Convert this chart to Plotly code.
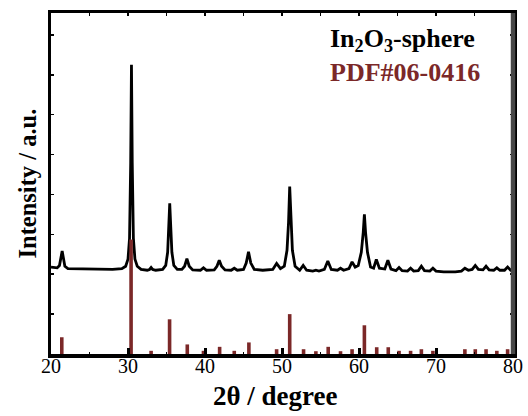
import plotly.graph_objects as go

# ---- measured XRD pattern (In2O3-sphere) ----
two_theta = [20.0, 20.8, 21.1, 21.3, 21.45, 21.6, 21.8, 22.2, 24.0, 26.0,
             28.0, 29.2, 29.7, 30.0, 30.2, 30.35, 30.45, 30.55, 30.7, 30.9,
             31.2, 31.7, 32.5, 32.8, 33.0, 33.2, 33.6, 34.5, 34.9, 35.15,
             35.3, 35.42, 35.55, 35.7, 35.95, 36.4, 37.0, 37.35, 37.65, 37.95,
             38.4, 39.4, 39.8, 40.2, 41.2, 41.55, 41.85, 42.15, 42.6, 43.4,
             43.8, 44.2, 45.0, 45.35, 45.65, 45.95, 46.4, 47.5, 48.8, 49.3,
             49.8, 50.3, 50.65, 50.85, 51.0, 51.15, 51.35, 51.7, 52.3, 52.75,
             53.2, 54.0, 54.4, 54.8, 55.5, 55.95, 56.4, 57.2, 57.6, 58.0,
             58.7, 59.1, 59.5, 59.9, 60.3, 60.55, 60.7, 60.85, 61.1, 61.5,
             61.9, 62.25, 62.65, 63.35, 63.75, 64.15, 64.8, 65.2, 65.6, 66.3,
             66.7, 67.1, 67.7, 68.1, 68.5, 69.2, 69.6, 70.0, 71.0, 72.5,
             73.3, 73.75, 74.2, 74.7, 75.1, 75.5, 76.1, 76.5, 76.9, 77.5,
             77.9, 78.3, 78.9, 79.3, 79.7, 80.0]
intensity = [2.18, 2.16, 2.22, 2.45, 2.58, 2.42, 2.20, 2.14, 2.13, 2.12,
             2.12, 2.14, 2.20, 2.38, 2.90, 4.80, 7.25, 4.80, 2.90, 2.38,
             2.20, 2.12, 2.10, 2.12, 2.17, 2.12, 2.10, 2.12, 2.22, 2.55,
             3.20, 3.78, 3.20, 2.55, 2.22, 2.12, 2.12, 2.20, 2.39, 2.20,
             2.11, 2.10, 2.16, 2.10, 2.11, 2.20, 2.35, 2.20, 2.11, 2.10,
             2.15, 2.10, 2.12, 2.28, 2.56, 2.28, 2.12, 2.10, 2.12, 2.27,
             2.14, 2.20, 2.60, 3.30, 4.20, 3.30, 2.60, 2.20, 2.10, 2.22,
             2.10, 2.08, 2.10, 2.08, 2.12, 2.33, 2.12, 2.10, 2.15, 2.10,
             2.14, 2.31, 2.18, 2.22, 2.55, 3.05, 3.50, 3.05, 2.55, 2.18,
             2.15, 2.37, 2.15, 2.13, 2.35, 2.13, 2.09, 2.17, 2.09, 2.08,
             2.15, 2.08, 2.09, 2.20, 2.09, 2.08, 2.15, 2.08, 2.06, 2.06,
             2.08, 2.15, 2.10, 2.12, 2.22, 2.12, 2.11, 2.20, 2.11, 2.10,
             2.16, 2.10, 2.10, 2.18, 2.10, 2.10]

# ---- reference pattern PDF#06-0416 (stick positions / heights) ----
pdf_theta = [21.4, 30.4, 33.0, 35.4, 37.7, 39.8, 41.9, 43.8, 45.7, 49.3,
             51.0, 52.8, 54.4, 56.0, 57.6, 59.1, 60.7, 62.3, 63.8, 65.2,
             66.7, 68.1, 69.6, 73.75, 75.1, 76.5, 77.9, 79.3]
pdf_height = [0.42, 2.87, 0.08, 0.87, 0.24, 0.08, 0.18, 0.08, 0.29, 0.12,
              1.00, 0.12, 0.07, 0.18, 0.07, 0.12, 0.72, 0.17, 0.17, 0.08,
              0.08, 0.12, 0.08, 0.12, 0.12, 0.12, 0.08, 0.12]

x_ticks = [20, 30, 40, 50, 60, 70, 80]

RED = "#7B2828"
SERIF = "Liberation Serif, Times New Roman, serif"

# build stick segments from the PDF arrays
stick_x, stick_y = [], []
for t, h in zip(pdf_theta, pdf_height):
    stick_x += [t, t, None]
    stick_y += [0, h, None]

fig = go.Figure()
fig.add_trace(go.Scatter(x=two_theta, y=intensity, mode="lines",
                         line=dict(color="black", width=2.8),
                         showlegend=False, hoverinfo="skip"))
fig.add_trace(go.Scatter(x=stick_x, y=stick_y, mode="lines",
                         line=dict(color=RED, width=3.6),
                         showlegend=False, hoverinfo="skip"))
# invisible trace to activate top axis
fig.add_trace(go.Scatter(x=[20, 80], y=[None, None], xaxis="x2",
                         showlegend=False, hoverinfo="skip"))

fig.update_layout(
    width=528, height=416,
    margin=dict(l=51, r=15, t=13, b=62, autoexpand=False),
    paper_bgcolor="white", plot_bgcolor="white",
    font=dict(family=SERIF, color="black"),
    xaxis=dict(range=[20, 80], tickvals=x_ticks, ticks="inside",
               ticklen=6, tickwidth=3, tickcolor="black",
               showline=True, linecolor="black", linewidth=3.5, mirror=True,
               showgrid=False, zeroline=False, automargin=False,
               ticklabelstandoff=-9,
               tickfont=dict(family=SERIF, size=20, color="black"),
               minor=dict(dtick=5, ticks="inside", ticklen=2, tickwidth=1.5,
                          tickcolor="black")),
    xaxis2=dict(range=[20, 80], overlaying="x", side="top", dtick=5,
                ticks="inside", ticklen=3, tickwidth=1.5, tickcolor="black",
                showticklabels=False, showgrid=False, zeroline=False,
                showline=False),
    yaxis=dict(range=[0, 8.55], dtick=1, ticks="inside", ticklen=3,
               tickwidth=1.5, tickcolor="black", showticklabels=False,
               showline=True, linecolor="black", linewidth=3.5,
               mirror="ticks", showgrid=False, zeroline=False),
    shapes=[dict(type="line", xref="paper", yref="paper", x0=1, x1=1,
                 y0=0, y1=1, line=dict(color="#474747", width=4.5),
                 layer="above")],
    annotations=[
        dict(text="<b>In<sub>2</sub>O<sub>3</sub>-sphere</b>", xref="paper",
             yref="paper", x=(328 - 51) / 462, y=(354 - 40) / 341,
             xanchor="left", yanchor="middle", showarrow=False,
             font=dict(family=SERIF, size=26, color="black")),
        dict(text="<b>PDF#06-0416</b>", xref="paper", yref="paper",
             x=(328 - 51) / 462, y=(354 - 73) / 341, xanchor="left",
             yanchor="middle", showarrow=False,
             font=dict(family=SERIF, size=26, color=RED)),
        dict(text="<b>2θ / degree</b>", xref="paper", yref="paper",
             x=(275 - 51) / 462, y=(354 - 396) / 341, xanchor="center",
             yanchor="middle", showarrow=False,
             font=dict(family=SERIF, size=27, color="black")),
        dict(text="<b>Intensity / a.u.</b>", xref="paper", yref="paper",
             x=(27 - 51) / 462, y=0.5, xanchor="center", yanchor="middle",
             textangle=-90, showarrow=False,
             font=dict(family=SERIF, size=24.5, color="black")),
    ],
)

# remove the default 8px page margin and scrollbars so the figure fills the window
fig.write_html(
    "out.html",
    config={"displayModeBar": False, "staticPlot": True},
    post_script="document.body.style.margin='0px';"
                "document.documentElement.style.overflow='hidden';"
                "document.body.style.overflow='hidden';",
)
